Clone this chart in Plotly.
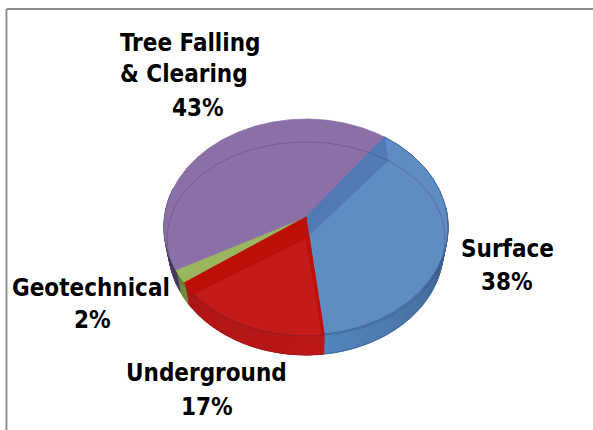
import numpy as np
import plotly.graph_objects as go

categories = ["Surface", "Underground", "Geotechnical", "Tree Falling & Clearing"]
shares = [38, 17, 2, 43]
top_colors = ["#5F8DC3", "#C41A1A", "#9BB65C", "#8B70A8"]
band_colors = ["#5079B6", "#BD0F06", "#8CA64E", "#8B70A8"]
side_colors = [(84, 134, 190), (188, 24, 24), (130, 155, 70), (85, 70, 115)]

START = 36.5
W, H = 593, 430
TOP = dict(cx=306.0, cy=217.0, a=141.4, b=107.0, k=0.0926)
INNER = dict(cx=306.0, cy=238.0, a=139.0, b=97.0, k=0.01)
BOTTOM = dict(cx=306.0, cy=238.0, a=137.0, b=106.0, k=0.0926)


def project(t, g):
    r = np.radians(t)
    u, v = np.sin(r), -np.cos(r)
    w = 1 - g["k"] * v
    return g["cx"] + g["a"] * u / w, g["cy"] + g["b"] * v / w


def shade(t):
    return float(np.interp(t, [85, 100, 125, 175, 225, 250, 280], [0.5, 0.62, 0.85, 1.0, 0.95, 0.82, 0.75]))


def hex_of(c, f):
    return "rgb(%d,%d,%d)" % tuple(min(255, int(x * f)) for x in c)


def poly(xs, ys, color, line=None, lw=0.8):
    return go.Scatter(x=list(xs), y=list(ys), mode="lines", fill="toself", fillcolor=color,
                      line=dict(color=line or color, width=lw), hoverinfo="skip", showlegend=False)


edges = START + np.concatenate([[0], np.cumsum(shares)]) * 3.6
fig = go.Figure()

# outer wall (drawn first, tops cover whatever is behind)
for i in range(len(shares)):
    a0, a1 = edges[i], edges[i + 1]
    for s in np.arange(a0, a1, 1.0):
        e = min(s + 1.0, a1)
        if e < 85 or s > 285:
            continue
        ts = np.array([s, e])
        x, y = project(ts, TOP)
        xb, yb = project(ts, BOTTOM)
        fig.add_trace(poly(np.r_[x, xb[::-1], x[0]], np.r_[y, yb[::-1], y[0]], hex_of(side_colors[i], shade((s + e) / 2)), lw=1.2))

# outer wall lower edge
for i, col in enumerate(["#3F6A9F", "#A81818", "#6F8A3C", "#4A3C60"]):
    ts = np.arange(max(edges[i], 85), min(edges[i + 1], 285) + 0.5, 1.0)
    if ts.size:
        x, y = project(ts, BOTTOM)
        fig.add_trace(go.Scatter(x=x, y=y, mode="lines", line=dict(color=col, width=1), hoverinfo="skip", showlegend=False))

# top faces
for i in range(len(shares)):
    ts = np.linspace(edges[i], edges[i + 1], max(3, int(edges[i + 1] - edges[i]) + 1))
    x, y = project(ts, TOP)
    fig.add_trace(poly(np.r_[TOP["cx"], x, TOP["cx"]], np.r_[TOP["cy"], y, TOP["cy"]], top_colors[i]))

# inner walls seen through the glass top: slice start and end faces
for i, t_edge in [(0, edges[0]), (1, edges[1]), (1, edges[2])]:
    x, y = project(t_edge, TOP)
    xi, yi = project(t_edge, INNER)
    fig.add_trace(poly([TOP["cx"], x, xi, INNER["cx"], TOP["cx"]], [TOP["cy"], y, yi, INNER["cy"], TOP["cy"]], band_colors[i]))

# inner rim line
ts = np.arange(0, 361, 2.0)
x, y = project(ts, INNER)
fig.add_trace(go.Scatter(x=x, y=y, mode="lines", line=dict(color="rgba(50,40,80,0.28)", width=1), hoverinfo="skip", showlegend=False))

# top rim line on the blue slice
ts = np.arange(edges[0], edges[1] + 0.5, 1.0)
x, y = project(ts, TOP)
fig.add_trace(go.Scatter(x=x, y=y, mode="lines", line=dict(color="#3A689F", width=1), hoverinfo="skip", showlegend=False))

font = dict(family="DejaVu Sans Condensed, DejaVu Sans", size=24, color="#000000", weight=700)


def label(text, x, y, anchor="center"):
    fig.add_annotation(x=x, y=y, text=text, showarrow=False, xanchor=anchor, yanchor="middle", font=font)


pct = [f"{v}%" for v in shares]
label(categories[0], 507, 249)
label(pct[0], 507, 282)
label(categories[1], 206, 373)
label(pct[1], 207, 407)
label(categories[2], 91, 288)
label(pct[2], 92, 320)
label("Tree Falling", 118, 43, "left")
label("& Clearing", 118, 74, "left")
label(pct[3], 198, 108)

frame = dict(color="#8A8A8A", width=1.8)
fig.add_shape(type="line", x0=6.5, x1=W, y0=9, y1=9, line=frame)
fig.add_shape(type="line", x0=6.5, x1=6.5, y0=9, y1=H, line=frame)

fig.update_layout(
    width=W, height=H, margin=dict(l=0, r=0, t=0, b=0), paper_bgcolor="white", plot_bgcolor="white",
    showlegend=False,
    xaxis=dict(range=[0, W], visible=False, fixedrange=True),
    yaxis=dict(range=[H, 0], visible=False, fixedrange=True),
)
fig.write_html("out.html", config=dict(displayModeBar=False),
               post_script="document.body.style.margin='0';document.documentElement.style.overflow='hidden';")
